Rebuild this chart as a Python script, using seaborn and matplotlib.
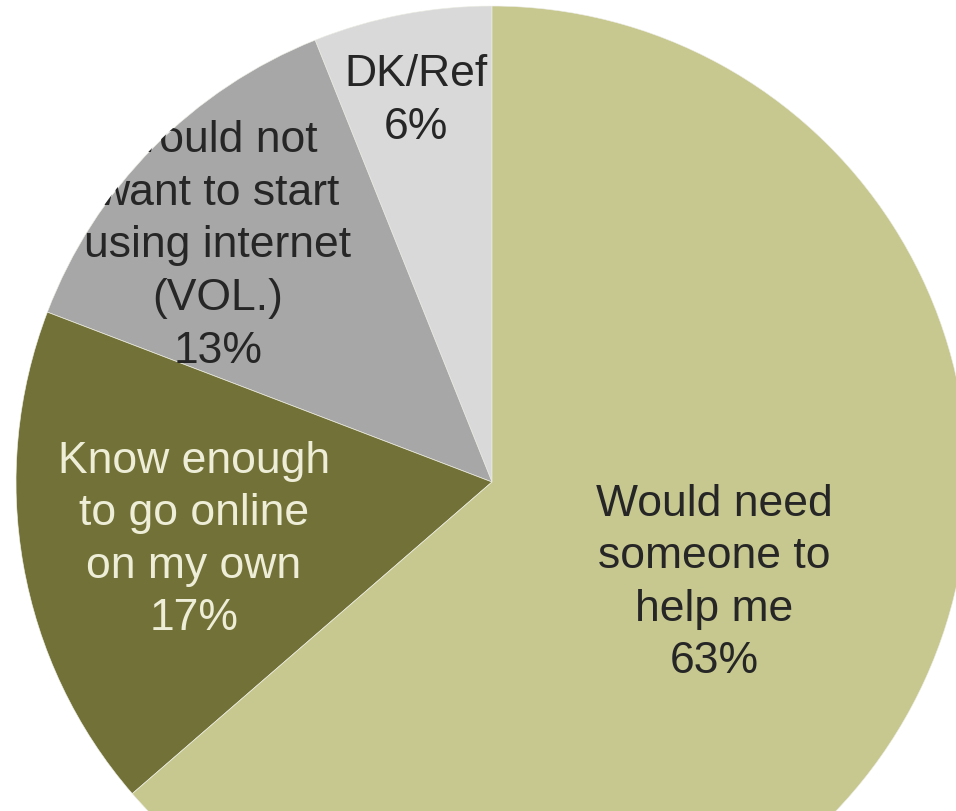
import matplotlib
matplotlib.use("Agg")
import matplotlib.pyplot as plt
import numpy as np
import seaborn as sns
from matplotlib.path import Path
from matplotlib.patches import PathPatch

# ---- data ----
categories = ["DK/Ref", "Would not\nwant to start\nusing internet\n(VOL.)",
              "Know enough\nto go online\non my own", "Would need\nsomeone to\nhelp me"]
values = [6, 13, 17, 63]

# ---- style ----
colors = ["#D9D9D9", "#A7A7A7", "#727238", "#C7C88F"]
text_colors = ["#262626", "#262626", "#EEEED8", "#262626"]
# label centres in pixel coordinates (x from left, y from top)
label_pos = [(416, 101), (218, 246), (194, 540), (714, 583)]

sns.set_style("white")
plt.rcParams["font.family"] = ["Liberation Sans", "DejaVu Sans"]

W, H = 956, 811
fig = plt.figure(figsize=(W / 100, H / 100), dpi=100)
ax = fig.add_axes([0, 0, 1, 1])

cx, cy, r = 492, 482, 476
wedges, _ = ax.pie(values, colors=colors, startangle=90, counterclock=True,
                   center=(cx, H - cy), radius=r,
                   wedgeprops=dict(edgecolor="#ECECE4", linewidth=0.5))

for cat, val, (lx, ly), tc in zip(categories, values, label_pos, text_colors):
    ax.text(lx, H - ly, f"{cat}\n{val}%", ha="center", va="center",
            fontsize=32, color=tc, linespacing=1.36, zorder=5)

# white mask outside the pie so labels are cut at the pie edge
ang = np.linspace(0, -2 * np.pi, 721)
ring = np.column_stack([cx + (r + 0.5) * np.cos(ang), (H - cy) + (r + 0.5) * np.sin(ang)])
outer = np.array([[-50, -50], [W + 50, -50], [W + 50, H + 50], [-50, H + 50], [-50, -50]])
verts = np.vstack([outer, ring])
codes = ([Path.MOVETO] + [Path.LINETO] * 3 + [Path.CLOSEPOLY] +
         [Path.MOVETO] + [Path.LINETO] * (len(ring) - 2) + [Path.CLOSEPOLY])
ax.add_patch(PathPatch(Path(verts, codes), facecolor="white", edgecolor="none", zorder=10))

ax.set_xlim(0, W)
ax.set_ylim(0, H)
ax.set_aspect("equal", adjustable="box")
ax.axis("off")

fig.savefig("out.png", dpi=100, facecolor="white")
